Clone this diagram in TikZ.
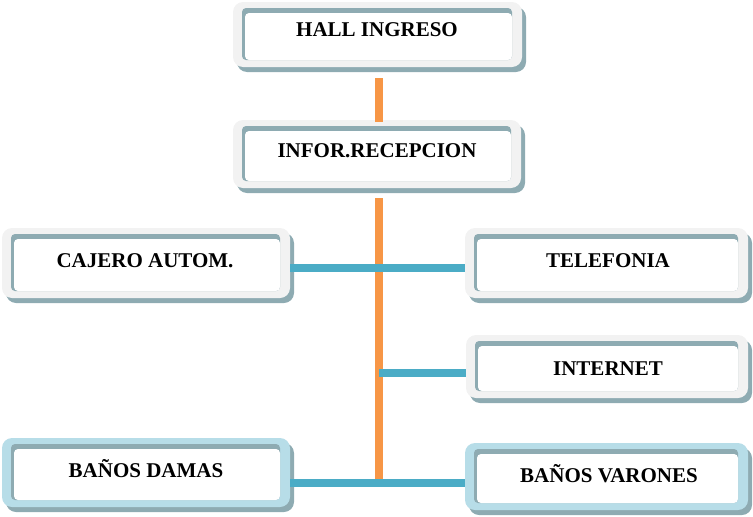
\documentclass[tikz,border=0pt]{standalone}
\usepackage{fontspec}
\setmainfont{Liberation Serif}
\usetikzlibrary{fit}
\definecolor{orgFrame}{HTML}{F2F2F2}
\definecolor{orgFrameBlue}{HTML}{B7DDE8}
\definecolor{orgShade}{HTML}{8EABB2}
\definecolor{orgTrunk}{HTML}{F79646}
\definecolor{orgBranch}{HTML}{4BACC6}
\begin{document}
\begin{tikzpicture}[x=1pt, y=-1pt,
  lbl/.style={anchor=base, inner sep=0pt, font=\fontsize{21}{24}\selectfont\bfseries},
  trunk/.style={draw=orgTrunk, line width=8pt},
  branch/.style={draw=orgBranch, line width=8pt}]
% Box: shadow, frame, inset line and white face, then a named node over the frame
\providecommand{\orgBox}[6]{%
  \fill[orgShade, rounded corners=10pt] (#2+4,#3+5) rectangle (#4+4,#5+5);
  \fill[#6, rounded corners=10pt] (#2,#3) rectangle (#4,#5);
  \fill[orgShade, rounded corners=4pt] (#2+9,#3+6) rectangle (#4-10,#5-7);
  \fill[white, rounded corners=4pt] (#2+12,#3+11) rectangle (#4-10,#5-7);
  \node[fit={(#2,#3) (#4,#5)}, inner sep=0pt] (#1) {};
}
\useasboundingbox (0,0) rectangle (753,517);
% Boxes
\orgBox{hall}{233}{2}{522}{67}{orgFrame}
\orgBox{infor}{233}{120}{521}{188}{orgFrame}
\orgBox{cajero}{2}{228}{290}{298}{orgFrame}
\orgBox{tel}{465}{228}{748}{298}{orgFrame}
\orgBox{internet}{466}{335}{748}{398}{orgFrame}
\orgBox{damas}{2}{438}{290}{507}{orgFrameBlue}
\orgBox{varones}{465}{443}{748}{510}{orgFrameBlue}
% Connectors
\coordinate (spine) at (379,0);
\draw[trunk] ([yshift=-11pt]spine |- hall.south) -- ([yshift=-2pt]spine |- infor.north);
\draw[trunk] ([yshift=-10pt]spine |- infor.south) -- ([yshift=-10.5pt]spine |- damas.east);
\draw[branch] ([yshift=-5pt]cajero.east) -- ([yshift=-5pt]cajero.east -| tel.west);
\draw[branch] ([yshift=-6.5pt]spine |- internet.west) -- ([yshift=-6.5pt]internet.west);
\draw[branch] ([yshift=-10.5pt]damas.east) -- ([yshift=-10.5pt]damas.east -| varones.west);
% Labels
\node[lbl] (hallT) at (377,36) {HALL INGRESO};
\node[lbl] (inforT) at (377,157.7) {INFOR.RECEPCION};
\node[lbl] (cajeroT) at (145,267.7) {CAJERO AUTOM.};
\node[lbl] (telT) at (608,267.7) {TELEFONIA};
\node[lbl] (internetT) at (608,375) {INTERNET};
\node[lbl] (damasT) at (146,477.7) {BAÑOS DAMAS};
\node[lbl] (varonesT) at (609,482.3) {BAÑOS VARONES};
\end{tikzpicture}
\end{document}
